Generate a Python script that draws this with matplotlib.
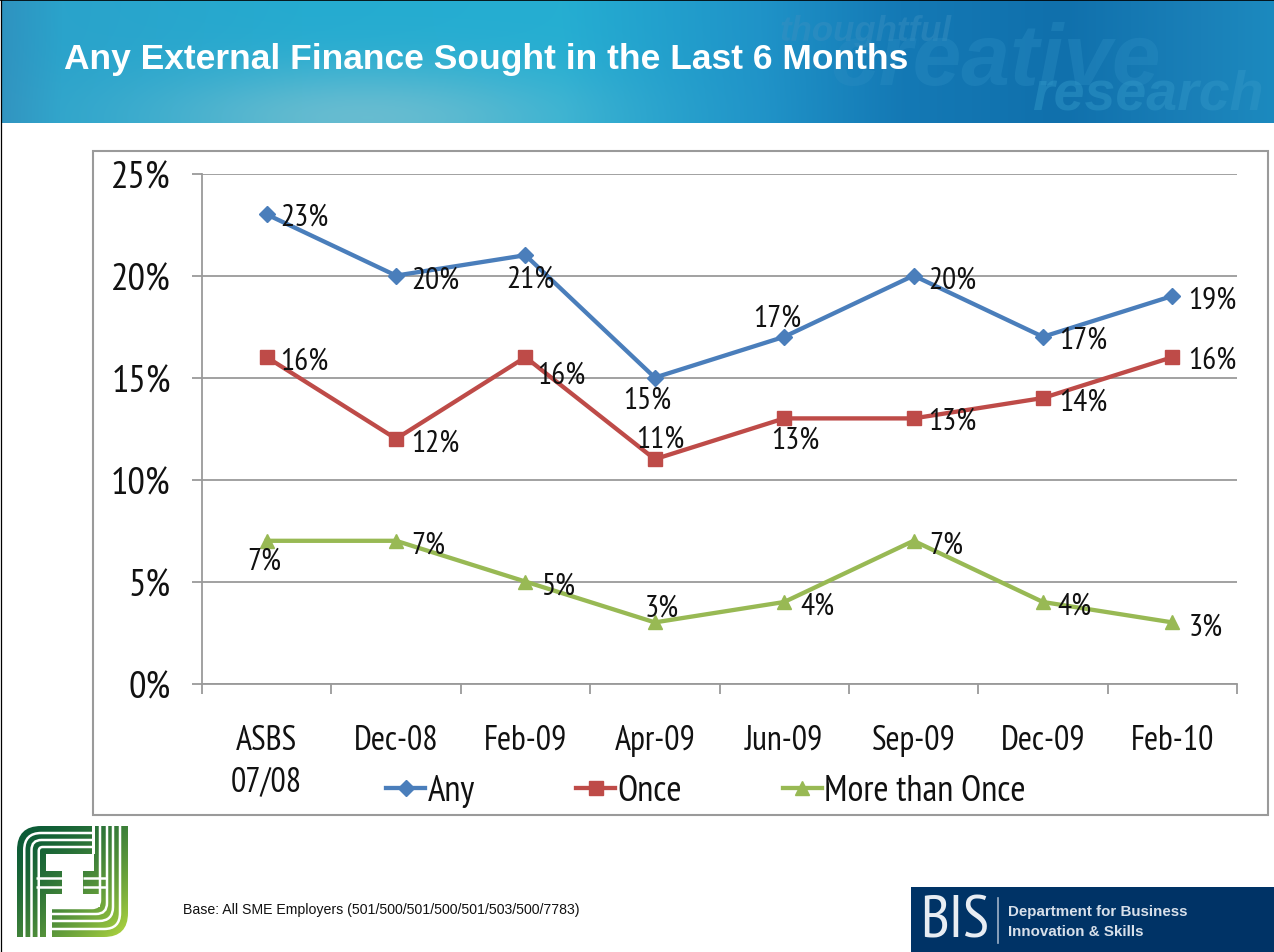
import numpy as np
import matplotlib
matplotlib.use("Agg")
import matplotlib.pyplot as plt
from matplotlib import font_manager as fm
from matplotlib.patches import Rectangle, PathPatch
from matplotlib.path import Path
from matplotlib.colors import to_rgb

# ---------- data ----------
categories = ["ASBS\n07/08", "Dec-08", "Feb-09", "Apr-09", "Jun-09", "Sep-09", "Dec-09", "Feb-10"]
any_values = [23, 20, 21, 15, 17, 20, 17, 19]
once_values = [16, 12, 16, 11, 13, 13, 14, 16]
more_values = [7, 7, 5, 3, 4, 7, 4, 3]
y_ticks = [0, 5, 10, 15, 20, 25]

title = "Any External Finance Sought in the Last 6 Months"
base_note = "Base: All SME Employers (501/500/501/500/501/503/500/7783)"

# label offsets in pixels (dx right, dy down)
any_off = [(38, 1), (39, 2), (5, 22), (-8, 20), (-7, -21), (39, 2), (40, 1), (40, 2)]
once_off = [(38, 2), (39, 2), (36, 16), (5, -22), (11, 20), (39, 1), (40, 2), (40, 1)]
more_off = [(-2, 18), (32, 2), (33, 2), (7, -16), (33, 2), (33, 2), (32, 2), (33, 3)]

W, H = 1274, 953


def pick_font(names):
    for n in names:
        try:
            fm.findfont(n, fallback_to_default=False)
            return n
        except ValueError:
            continue
    return "Liberation Sans"


NARROW = [pick_font(["PT Sans Narrow", "Archivo Narrow", "Roboto Condensed"]), "DejaVu Sans"]
SANS = ["Liberation Sans", "DejaVu Sans"]
GRID = "#9a9a9a"
TXT = "#111111"

fig = plt.figure(figsize=(W / 100, H / 100), dpi=100, facecolor="white")

# ---------- pixel-space backdrop ----------
bg = fig.add_axes([0, 0, 1, 1], zorder=0)
bg.axis("off")

# header banner
stops_x = [0, 60, 300, 560, 760, 900, 1060, 1200, 1274]
stops_c = ["#2f93c0", "#2aa3cb", "#25abd0", "#25aed2", "#1f93c8", "#1479b5", "#1070ac", "#1a80b8", "#1c8abf"]
rgb = np.array([to_rgb(c) for c in stops_c])
xs = np.arange(W)
ys = np.arange(124)
XX, YY = np.meshgrid(xs, ys)
banner = np.stack([np.interp(xs, stops_x, rgb[:, i]) for i in range(3)], axis=1)[None, :, :].repeat(124, axis=0)
glow = np.exp(-((XX - 360) / 210.0) ** 2) * np.exp(-((YY - 118) / 50.0) ** 2)
glow = (0.62 * glow)[..., None]
banner = banner * (1 - glow) + np.array(to_rgb("#8fc6d0")) * glow
bg.imshow(banner, extent=(2, W, 123.5, 1), aspect="auto", interpolation="bilinear", zorder=1)
bg.plot([1, 1], [0, H], color="black", lw=0.9, zorder=2)
bg.plot([0, W], [0.5, 0.5], color="black", lw=1.2, zorder=2)

bg.text(780, 31, "thoughtful", family=SANS, style="italic", weight="bold", fontsize=25,
        color="#3a8fc0", alpha=0.45, va="center", zorder=3)
bg.text(830, 63, "creative", family=SANS, style="italic", weight="bold", fontsize=63,
        color="#2a8cc2", alpha=0.4, va="center", zorder=3)
bg.text(1032, 96, "research", family=SANS, style="italic", weight="bold", fontsize=40,
        color="#2f95c6", alpha=0.5, va="center", zorder=3)
bg.text(64, 59, title, family=SANS, weight="bold", fontsize=25.45, color="white", va="center", zorder=4)

# chart frame
bg.add_patch(Rectangle((92.5, 151.5), 1175, 664, fc="white", ec=GRID, lw=1.5, zorder=2))

# footer note
bg.text(183, 910, base_note, family=SANS, fontsize=10.2, color=TXT, va="center", zorder=3)

# logo: gradient tile with white separating stripes
lx0, lx1, ly0, ly1 = 17, 128, 827, 938
lg = np.linspace(0, 1, 112)
LX, LY = np.meshgrid(lg, lg)
t = ((LX + LY) / 2)[..., None] ** 1.7
logo = np.array(to_rgb("#0a5a36")) * (1 - t) + np.array(to_rgb("#b4d940")) * t
im = bg.imshow(logo, extent=(lx0, lx1, ly1, ly0), aspect="auto", zorder=3)
rc = 24
tile = Path(
    [(lx0 + rc, ly0), (lx1, ly0), (lx1, ly1 - rc), (lx1, ly1), (lx1 - rc, ly1), (lx0, ly1), (lx0, ly0 + rc),
     (lx0, ly0), (lx0 + rc, ly0)],
    [Path.MOVETO, Path.LINETO, Path.LINETO, Path.CURVE3, Path.CURVE3, Path.LINETO, Path.LINETO,
     Path.CURVE3, Path.CURVE3])
im.set_clip_path(tile, bg.transData)


def white_stroke(verts, codes, lw=1.8):
    bg.add_patch(PathPatch(Path(verts, codes), fc="none", ec="white", lw=lw, zorder=5, capstyle="butt"))


for i in (1, 2, 3):
    x_ = lx0 + 7.25 * i
    y_ = ly0 + 7.0 * i
    r = max(rc - 7.0 * i, 4)
    white_stroke([(x_, ly1), (x_, y_ + r), (x_, y_), (x_ + r, y_), (93, y_)],
                 [Path.MOVETO, Path.LINETO, Path.CURVE3, Path.CURVE3, Path.LINETO])
for xv, yv, r in ((120, 930, 16), (113, 922, 14), (107, 915, 11), (100, 909, 8)):
    white_stroke([(xv, ly0), (xv, yv - r), (xv, yv), (xv - r, yv), (52, yv)],
                 [Path.MOVETO, Path.LINETO, Path.CURVE3, Path.CURVE3, Path.LINETO])
for yv in (879, 888):
    white_stroke([(36, yv), (62, yv)], [Path.MOVETO, Path.LINETO])
    white_stroke([(83, yv), (107, yv)], [Path.MOVETO, Path.LINETO])
for rx, ry, rw, rh in ((46, 855, 48, 17), (62, 872, 21, 23), (52, 895, 48, 13), (46, 895, 6, 43), (92, 827, 2.5, 28)):
    bg.add_patch(Rectangle((rx, ry), rw, rh, fc="white", ec="none", zorder=6))

# BIS badge
bg.add_patch(Rectangle((911, 888), 363, 65, fc="#003366", ec="none", zorder=2))
bg.text(920, 923, "BIS", family=NARROW, fontsize=44, color="#e8edf3", va="center", zorder=3)
bg.plot([998, 998], [899, 944], color="#9fb2c8", lw=1.2, zorder=3)
bg.text(1008, 912, "Department for Business", family=SANS, weight="bold", fontsize=10.9,
        color="#d8e0ea", va="center", zorder=3)
bg.text(1008, 932, "Innovation & Skills", family=SANS, weight="bold", fontsize=10.9,
        color="#d8e0ea", va="center", zorder=3)

bg.set_xlim(0, W)
bg.set_ylim(H, 0)

# ---------- chart ----------
ax = fig.add_axes([202 / W, 1 - 684.6 / H, (1237 - 202) / W, (684.6 - 174.6) / H], zorder=2)
ax.patch.set_alpha(0)
ax.set_xlim(-0.5, len(categories) - 0.5)
ax.set_ylim(0, 25)
for s in ("top", "right"):
    ax.spines[s].set_visible(False)
for s in ("left", "bottom"):
    ax.spines[s].set_color(GRID)
    ax.spines[s].set_linewidth(1.3)
ax.yaxis.grid(True, color=GRID, lw=1.3)
ax.set_axisbelow(True)

x = np.arange(len(categories))
ax.set_xticks(x)
ax.set_xticklabels(categories, family=NARROW, fontsize=24.5, color=TXT, linespacing=1.36)
ax.set_xticks(np.arange(len(categories) + 1) - 0.5, minor=True)
ax.tick_params(axis="x", which="major", length=0, pad=29)
ax.tick_params(axis="x", which="minor", length=7.5, width=1.3, color=GRID)
ax.set_yticks(y_ticks)
ax.set_yticklabels([f"{v}%" for v in y_ticks], family=NARROW, fontsize=28, color=TXT)
ax.tick_params(axis="y", length=7.5, width=1.3, color=GRID, pad=15)

series = [
    ("Any", any_values, any_off, "#4a7ebb", "D", 8.5),
    ("Once", once_values, once_off, "#be4b48", "s", 10),
    ("More than Once", more_values, more_off, "#98b954", "^", 10.5),
]
for name, vals, offs, col, mk, ms in series:
    ax.plot(x, vals, color=col, lw=3.1, marker=mk, ms=ms, mec=col, mfc=col, label=name,
            clip_on=False, zorder=3, solid_joinstyle="round")
    for xi, v, (dx, dy) in zip(x, vals, offs):
        ax.annotate(f"{v}%", (xi, v), xytext=(dx * 0.72, -(dy + 1.5) * 0.72), textcoords="offset points",
                    ha="center", va="center", family=NARROW, fontsize=22.5, color=TXT, zorder=4)

ax.legend(loc="center", bbox_to_anchor=((706 - 202) / 1035, (684.6 - 792) / 510),
          ncols=3, frameon=False, handlelength=1.06, handletextpad=0.06, columnspacing=2.75,
          prop={"family": NARROW, "size": 26.5}, labelcolor=TXT, borderpad=0, borderaxespad=0)

fig.savefig("out.png", dpi=100)
